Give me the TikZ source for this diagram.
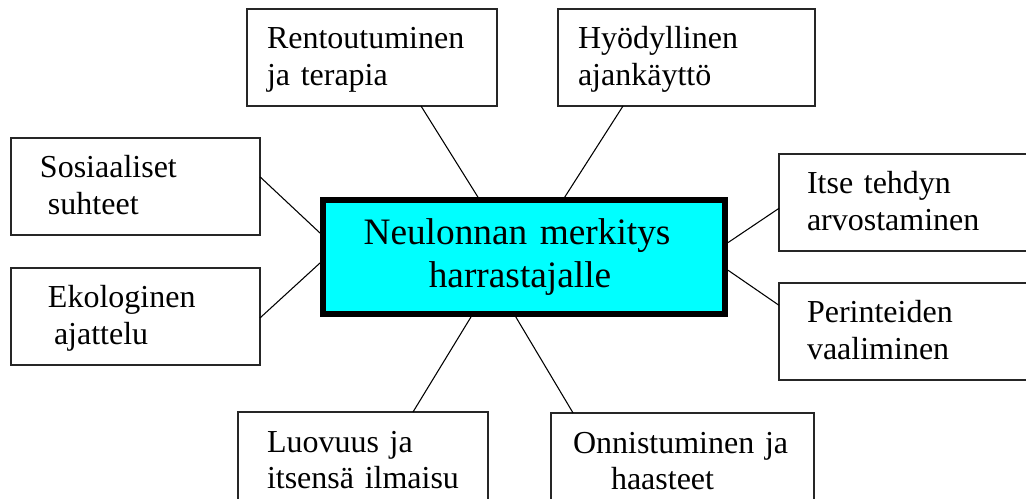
\documentclass[tikz,border=0pt]{standalone}
\usepackage{fontspec}
\setmainfont{Liberation Serif}
\usetikzlibrary{calc}
\definecolor{hubcyan}{RGB}{0,255,255}
\newdimen\pxu \pxu=0.75pt
\newcommand\ind[1]{\hspace*{#1\pxu}}
\tikzset{every picture/.style={x=0.75pt,y=-0.75pt},
  box/.style={rectangle, draw=black!85, line width=1pt, inner sep=0pt, outer sep=0pt,
    anchor=north west, align=left, text width=#1\pxu, text height=40\pxu, text depth=57\pxu,
    font=\fontsize{24}{27.75}\selectfont},
  hub/.style={rectangle, draw=black, line width=4.5pt, fill=hubcyan, inner sep=0pt,
    align=center, text width=402\pxu, text height=45\pxu, text depth=69\pxu,
    font=\fontsize{28}{32.25}\selectfont},
  link/.style={draw=black, line width=0.8pt}}
\begin{document}
\begin{tikzpicture}
        \path[use as bounding box, fill=white] (0,0) rectangle (1026,499);

        \node[hub] (hub) at (524,257) {\ind{-14}Neulonnan merkitys\\\ind{-8}harrastajalle};

        \node[box=250] (rent) at (247,9) {\ind{20}Rentoutuminen\\\ind{20}ja terapia};
        \node[box=257] (hyoty) at (558,9) {\ind{20}Hyödyllinen\\\ind{20}ajankäyttö};
        \node[box=249] (sos) at (11,138) {\ind{29}Sosiaaliset\\\ind{37}suhteet};
        \node[box=249] (eko) at (11,268) {\ind{37}Ekologinen\\\ind{43}ajattelu};
        \node[box=250] (itse) at (779,154) {\ind{28}Itse tehdyn\\\ind{28}arvostaminen};
        \node[box=250] (peri) at (779,283) {\ind{28}Perinteiden\\\ind{28}vaaliminen};
        \node[box=250] (luov) at (238,412) {\ind{29}Luovuus ja\\\ind{29}itsensä ilmaisu};
        \node[box=263] (onni) at (551,413) {\ind{22}Onnistuminen ja\\\ind{60}haasteet};

        \foreach \n/\a/\b/\p/\c/\d/\q in {
          rent/south west/south east/0.696/north west/north east/0.387,
          hyoty/south west/south east/0.253/north west/north east/0.60,
          sos/north east/south east/0.40/north west/south west/0.30,
          eko/north east/south east/0.515/north west/south west/0.55,
          itse/north west/south west/0.56/north east/south east/0.38,
          peri/north west/south west/0.23/north east/south east/0.61,
          luov/north west/north east/0.70/south west/south east/0.37,
          onni/north west/north east/0.084/south west/south east/0.48}
        \draw[link] ($(\n.\a)!\p!(\n.\b)$) -- ($(hub.\c)!\q!(hub.\d)$);
      \end{tikzpicture}
\end{document}
